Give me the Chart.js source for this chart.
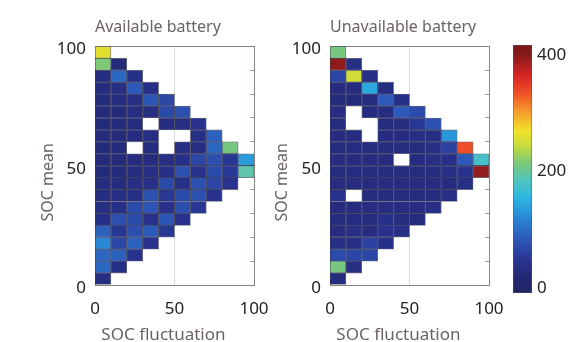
<!DOCTYPE html>
<html><head><meta charset="utf-8">
<script src="https://cdn.jsdelivr.net/npm/chart.js@4"></script>
<style>
html,body{margin:0;padding:0;background:#fff;}
#wrap{position:relative;width:582px;height:342px;overflow:hidden;background:#fff;}
canvas{position:absolute;top:0;}
</style></head><body>
<div id="wrap">
<canvas id="left" width="322" height="342" style="left:0;width:322px;height:342px"></canvas>
<canvas id="right" width="310" height="342" style="left:240px;width:310px;height:342px"></canvas>
<canvas id="cbar" width="69" height="342" style="left:513px;width:69px;height:342px"></canvas>
</div>
<script>
// ---------- DATA ----------
const FLUCT_BIN = 10;   // SOC fluctuation bin width
const MEAN_BIN = 5;     // SOC mean bin width
const fluctuationBinStarts = [0, 10, 20, 30, 40, 50, 60, 70, 80, 90];
// SOC mean bins, top row first
const meanBinStarts = [95, 90, 85, 80, 75, 70, 65, 60, 55, 50, 45, 40, 35, 30, 25, 20, 15, 10, 5, 0];
const axisTicks = [0, 50, 100];
const minorTicks = [10, 20, 30, 40, 50, 60, 70, 80, 90];
const colorbarTicks = [0, 200, 400];
const colorbarLimits = [-14, 412];
const panelTitles = ['Available battery', 'Unavailable battery'];

// counts per cell (rows follow meanBinStarts, columns follow fluctuationBinStarts); null = no data
const availableCounts = [
  [255],
  [210, 20],
  [25, 90, 35],
  [25, 30, 80, 35],
  [20, 25, 30, 75, 60],
  [20, 20, 25, 30, 65, 70],
  [20, 20, 25, null, 25, 30, 40],
  [20, 20, 25, 30, null, null, 35, 85],
  [20, 20, null, 25, null, 30, 30, 90, 205],
  [20, 20, 25, 25, 30, 35, 60, 70, 45, 130],
  [20, 20, 25, 30, 35, 70, 40, 65, 45, 188],
  [25, 25, 30, 35, 65, 35, 70, 60, 40],
  [25, 30, 35, 70, 45, 65, 70, 40],
  [30, 35, 65, 75, 40, 70, 45],
  [35, 70, 65, 40, 75, 40],
  [85, 45, 70, 80, 45],
  [115, 60, 85, 40],
  [90, 85, 40],
  [90, 35],
  [30]
];
const unavailableCounts = [
  [205],
  [392, 30],
  [60, 245, 30],
  [25, 25, 140, 30],
  [20, 20, 25, 80, 35],
  [25, null, 25, 25, 80, 65],
  [25, null, null, 25, 25, 45, 70],
  [25, 25, null, 25, 25, 30, 30, 125],
  [25, 25, 25, 25, 25, 25, 30, 55, 330],
  [25, 25, 25, 25, null, 25, 30, 35, 80, 172],
  [25, 25, 25, 25, 25, 25, 25, 30, 40, 390],
  [25, 25, 25, 25, 25, 25, 25, 25, 30],
  [40, null, 25, 25, 25, 25, 25, 30],
  [25, 25, 25, 25, 25, 25, 30],
  [25, 25, 25, 35, 25, 25],
  [25, 30, 25, 40, 30],
  [30, 30, 55, 35],
  [65, 60, 60],
  [205, 30],
  [25]
];

// ---------- STYLE ----------
const FONT = '"Noto Sans", "DejaVu Sans", sans-serif';
const TITLE_COLOR = '#6b6363';
const TICK_COLOR = '#222';
const FRAME = '#8a8282';
const cmapStops = [
  [0.00, [34, 36, 104]],
  [0.10, [40, 50, 142]],
  [0.20, [45, 90, 186]],
  [0.30, [40, 142, 216]],
  [0.375, [45, 182, 226]],
  [0.45, [82, 196, 190]],
  [0.52, [122, 200, 122]],
  [0.60, [200, 220, 60]],
  [0.66, [240, 226, 42]],
  [0.74, [245, 160, 45]],
  [0.82, [240, 82, 40]],
  [0.90, [214, 36, 36]],
  [1.00, [125, 25, 25]]
];
const CMAX = colorbarTicks[colorbarTicks.length - 1];
function cmap(v) {
  const t = Math.max(0, Math.min(1, v / CMAX));
  for (let i = 1; i < cmapStops.length; i++) {
    const [t1, c1] = cmapStops[i];
    const [t0, c0] = cmapStops[i - 1];
    if (t <= t1) {
      const f = (t - t0) / (t1 - t0);
      const c = c0.map((a, k) => Math.round(a + (c1[k] - a) * f));
      return `rgb(${c[0]},${c[1]},${c[2]})`;
    }
  }
  const c = cmapStops[cmapStops.length - 1][1];
  return `rgb(${c[0]},${c[1]},${c[2]})`;
}

function buildCells(rows) {
  const cells = [];
  rows.forEach((row, j) => {
    const lo = meanBinStarts[j];
    row.forEach((v, i) => {
      if (v === null || v === undefined) return;
      const fx = fluctuationBinStarts[i];
      cells.push({ x: fx + FLUCT_BIN / 2, y: [lo, lo + MEAN_BIN], v: v });
    });
  });
  return cells;
}

function fixedTicks(list) {
  return scale => { scale.ticks = list.map(v => ({ value: v })); };
}

function heatmap(canvasId, title, rows, o) {
  return new Chart(document.getElementById(canvasId), {
    type: 'bar',
    data: {
      datasets: [{
        data: buildCells(rows),
        backgroundColor: ctx => ctx.raw ? cmap(ctx.raw.v) : 'transparent',
        borderColor: 'rgba(12,12,40,0.6)',
        borderWidth: 0.8,
        borderSkipped: false,
        barPercentage: 1,
        categoryPercentage: 1
      }]
    },
    options: {
      responsive: false,
      animation: false,
      devicePixelRatio: 1,
      layout: { padding: { left: 0, right: o.padRight, top: 0, bottom: 0 } },
      plugins: {
        legend: { display: false },
        tooltip: { enabled: false },
        title: {
          display: true, text: title, color: TITLE_COLOR,
          fullSize: false, align: 'start',
          font: { family: FONT, size: 16, weight: 'normal', lineHeight: 1.15 },
          padding: { top: 18, bottom: 10 }
        }
      },
      scales: {
        x: {
          type: 'linear', min: 0, max: 100, offset: false,
          afterBuildTicks: fixedTicks(axisTicks),
          afterFit: s => { s.height = 57; },
          grid: {
            offset: false, drawTicks: false,
            color: c => (c.tick && c.tick.value === 50) ? '#dcdcdc' : FRAME
          },
          border: { display: true, color: FRAME },
          ticks: { padding: 14, color: TICK_COLOR, maxRotation: 0, autoSkip: false,
                   font: { family: FONT, size: 17 } },
          title: { display: true, text: 'SOC fluctuation     ', color: TITLE_COLOR,
                   font: { family: FONT, size: 17, lineHeight: 1.1 },
                   padding: { top: 0, bottom: -3 } }
        },
        x2: {
          type: 'linear', position: 'top', min: 0, max: 100, offset: false,
          afterBuildTicks: fixedTicks(axisTicks),
          afterFit: s => { s.height = 0; },
          grid: { drawOnChartArea: false, drawTicks: false },
          border: { display: true, color: FRAME },
          ticks: { display: false }
        },
        y: {
          type: 'linear', min: 0, max: 100,
          afterBuildTicks: fixedTicks(axisTicks),
          afterFit: s => { s.width = o.yWidth; },
          grid: {
            drawTicks: false,
            color: c => (c.tick && c.tick.value === 50) ? 'rgba(0,0,0,0)' : FRAME
          },
          border: { display: true, color: FRAME },
          ticks: { padding: 9, labelOffset: 3, color: TICK_COLOR,
                   font: { family: FONT, size: 17 } },
          title: { display: true, text: 'SOC mean        ', color: TITLE_COLOR,
                   font: { family: FONT, size: 16, lineHeight: 1.1 },
                   padding: { top: o.yTitlePad, bottom: 0 } }
        },
        y2: {
          type: 'linear', position: 'right', min: 0, max: 100,
          afterBuildTicks: fixedTicks(minorTicks),
          afterFit: s => { s.width = 0; },
          grid: { drawOnChartArea: false, drawTicks: true, tickLength: -4, color: '#a09898' },
          border: { display: true, color: FRAME },
          ticks: { display: false }
        }
      }
    }
  });
}

heatmap('left', panelTitles[0], availableCounts, { padRight: 68, yWidth: 95, yTitlePad: 39.2 });
heatmap('right', panelTitles[1], unavailableCounts, { padRight: 61, yWidth: 90, yTitlePad: 33.2 });

// colour bar
new Chart(document.getElementById('cbar'), {
  type: 'bar',
  data: {
    labels: [''],
    datasets: [{
      data: [colorbarLimits],
      backgroundColor: ctx => {
        const chart = ctx.chart;
        if (!chart.chartArea) return '#2a2c76';
        const ys = chart.scales.y;
        const y0 = ys.getPixelForValue(0), y1 = ys.getPixelForValue(CMAX);
        const g = chart.ctx.createLinearGradient(0, y0, 0, y1);
        cmapStops.forEach(([t, c]) => g.addColorStop(t, `rgb(${c[0]},${c[1]},${c[2]})`));
        return g;
      },
      borderColor: '#555',
      borderWidth: 0.8,
      borderSkipped: false,
      barPercentage: 1,
      categoryPercentage: 1
    }]
  },
  options: {
    responsive: false,
    animation: false,
    devicePixelRatio: 1,
    layout: { padding: { left: 0, right: 0, top: 45, bottom: 49 } },
    plugins: { legend: { display: false }, tooltip: { enabled: false } },
    scales: {
      x: { type: 'category', display: false },
      y: {
        position: 'right', min: colorbarLimits[0], max: colorbarLimits[1],
        afterBuildTicks: fixedTicks(colorbarTicks),
        afterFit: s => { s.width = 50; },
        grid: { display: false, drawTicks: false },
        border: { display: false },
        ticks: { padding: 5, labelOffset: 3, color: TICK_COLOR,
                 font: { family: FONT, size: 17 } }
      }
    }
  }
});
</script>
</body></html>
